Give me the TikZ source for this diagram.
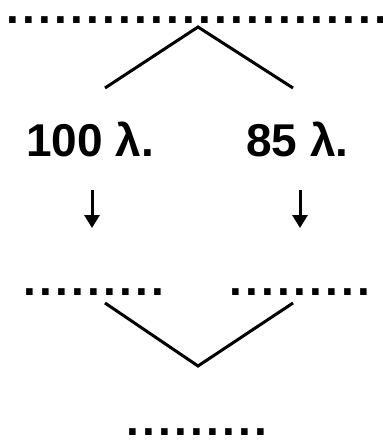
\documentclass[tikz,border=0pt]{standalone}
\usepackage{fontspec}
\setmainfont{Liberation Sans}
\newfontfamily\dotfont[LetterSpace=7]{Liberation Sans}
\usetikzlibrary{arrows.meta}
\tikzset{
  lbl/.style={font=\fontsize{46}{50}\selectfont\bfseries, inner sep=0pt, anchor=base west},
  dotrow/.style={font=\fontsize{46}{50}\selectfont\dotfont\bfseries, inner sep=0pt, anchor=base west},
  stem/.style={line width=3pt},
  arrow/.style={-{Triangle[width=15pt,length=13pt]}, line width=3pt}
}
\begin{document}
\begin{tikzpicture}[x=1pt, y=-1pt]
  \useasboundingbox (0,0) rectangle (382,446);
  % top row and branching
  \node[dotrow] (topdots) at (6,23.7) {........................};
  \coordinate (apex) at (198,27);
  \coordinate (lefttip) at (105,88);
  \coordinate (righttip) at (293,88);
  \draw[stem] (lefttip) -- (apex) -- (righttip);

  % the two values
  \node[lbl] (left) at (26,157) {100 λ.};
  \node[lbl] (right) at (246,157) {85 λ.};
  \coordinate (leftfrom) at (92,190);
  \coordinate (leftto) at (92,228);
  \coordinate (rightfrom) at (300,190);
  \coordinate (rightto) at (300,228);
  \draw[arrow] (leftfrom) -- (leftto);
  \draw[arrow] (rightfrom) -- (rightto);

  % lower rows and merging
  \node[dotrow] (leftdots) at (23,295.3) {.........};
  \node[dotrow] (rightdots) at (229,295.3) {.........};
  \coordinate (lefttop) at (105,303);
  \coordinate (bottom) at (198,366);
  \coordinate (righttop) at (293,303);
  \draw[stem] (lefttop) -- (bottom) -- (righttop);
  \node[dotrow] (lastdots) at (126,435.3) {.........};
\end{tikzpicture}
\end{document}
